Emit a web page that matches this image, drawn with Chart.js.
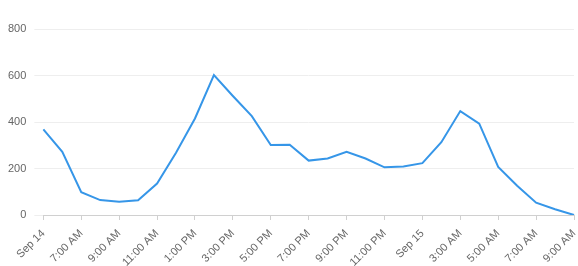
<!DOCTYPE html>
<html>
<head>
<meta charset="utf-8">
<script src="https://cdn.jsdelivr.net/npm/chart.js@4/dist/chart.umd.min.js"></script>
<style>
html,body{margin:0;padding:0;background:#fff;}
#wrap{width:578px;height:266px;position:relative;}
</style>
</head>
<body>
<div id="wrap"><canvas id="c"></canvas></div>
<script>
const categories = ["Sep 14","6:00 AM","7:00 AM","8:00 AM","9:00 AM","10:00 AM","11:00 AM","12:00 PM","1:00 PM","2:00 PM","3:00 PM","4:00 PM","5:00 PM","6:00 PM","7:00 PM","8:00 PM","9:00 PM","10:00 PM","11:00 PM","12:00 AM","Sep 15","2:00 AM","3:00 AM","4:00 AM","5:00 AM","6:00 AM","7:00 AM","8:00 AM","9:00 AM"];
const values = [368,272,98,64,57,63,135,268,415,602,512,425,301,302,234,243,272,243,205,209,223,313,447,393,207,126,53,25,0];
const yTicks = [0,200,400,600,800];

new Chart(document.getElementById('c'), {
  type: 'line',
  data: {
    labels: categories,
    datasets: [{
      data: values,
      borderColor: 'rgb(54,150,232)',
      borderWidth: 2,
      pointRadius: 0,
      tension: 0,
      fill: false
    }]
  },
  options: {
    responsive: true,
    maintainAspectRatio: false,
    animation: false,
    layout: { padding: { top: 29, right: 4, left: 0, bottom: 0 } },
    plugins: { legend: { display: false }, tooltip: { enabled: false } },
    scales: {
      x: {
        offset: false,
        afterFit: function(s) { s.paddingRight = 0; s.height = 51; },
        grid: { drawOnChartArea: false, drawTicks: true, tickLength: 5, color: '#d0d0d0' },
        border: { color: '#d0d0d0' },
        ticks: {
          autoSkip: false,
          maxRotation: 45, minRotation: 45,
          color: '#666',
          font: { family: 'Liberation Sans, Arial, sans-serif', size: 11 },
          padding: 7,
          callback: function(v, i) { return i % 2 === 0 ? categories[i] : null; }
        }
      },
      y: {
        min: 0, max: 800,
        afterBuildTicks: function(axis) { axis.ticks = yTicks.map(v => ({ value: v })); },
        grid: { color: '#eeeeee', tickLength: 9 },
        border: { display: false },
        ticks: {
          color: '#666',
          font: { family: 'Liberation Sans, Arial, sans-serif', size: 11 },
          padding: 8
        }
      }
    }
  }
});
</script>
</body>
</html>
